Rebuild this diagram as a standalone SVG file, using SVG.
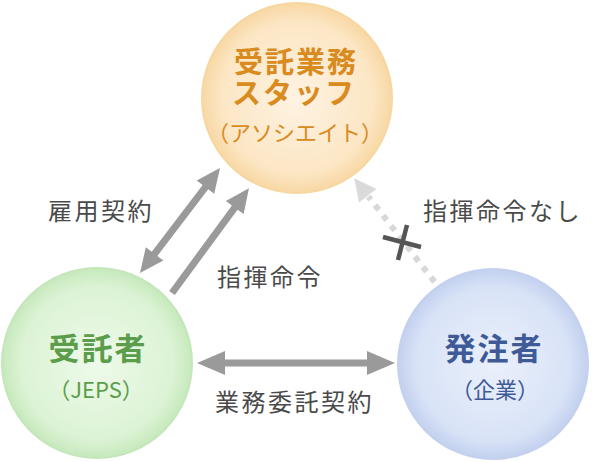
<svg xmlns="http://www.w3.org/2000/svg" width="592" height="462" viewBox="0 0 592 462">
<defs>
<radialGradient id="gO" cx="50%" cy="50%" r="50%">
<stop offset="0" stop-color="#fef3e3"/>
<stop offset="0.8" stop-color="#fce6c4"/>
<stop offset="1" stop-color="#f8d8a4"/>
</radialGradient>
<radialGradient id="gG" cx="50%" cy="50%" r="50%">
<stop offset="0" stop-color="#eefaea"/>
<stop offset="0.8" stop-color="#dcf3d5"/>
<stop offset="1" stop-color="#c6e9bc"/>
</radialGradient>
<radialGradient id="gB" cx="50%" cy="50%" r="50%">
<stop offset="0" stop-color="#eaf0fb"/>
<stop offset="0.8" stop-color="#d9e3f7"/>
<stop offset="1" stop-color="#c3d1ef"/>
</radialGradient>
<style>
.lbl{font-family:"Noto Sans CJK JP","Noto Sans",sans-serif;font-size:24px;fill:#4a4a4a;letter-spacing:2.5px}
.ttl{font-family:"Noto Sans CJK JP","Noto Sans",sans-serif;font-weight:bold;text-anchor:middle}
.sub{font-family:"Noto Sans CJK JP","Noto Sans",sans-serif;text-anchor:middle}
.arr{fill:#9a9a9a}
</style>
</defs>

<g id="connectors">
<g transform="translate(140,273) rotate(-52.7)">
<path class="arr" d="M0,0 L24,-11 L24,-3.5 L108,-3.5 L108,-11 L132,0 L108,11 L108,3.5 L24,3.5 L24,11 Z"/>
</g>
<g transform="translate(172,293) rotate(-53.7)">
<path class="arr" d="M0,-3.5 L106,-3.5 L106,-11 L130,0 L106,11 L106,3.5 L0,3.5 Z"/>
</g>
<path class="arr" d="M197,363 L225,351 L225,359.5 L367,359.5 L367,351 L395,363 L367,375 L367,366.5 L225,366.5 L225,375 Z"/>
<g transform="translate(437,285) rotate(-127.8)">
<line x1="4" y1="0" x2="112" y2="0" stroke="#d8d8d8" stroke-width="6" stroke-dasharray="6 7"/>
<path d="M113,-11 L135,0 L113,11 Z" fill="#dadada"/>
</g>
<g stroke="#555555" stroke-width="4.5" stroke-linecap="butt">
<line x1="383" y1="237" x2="421" y2="247"/>
<line x1="407" y1="225" x2="398" y2="260"/>
</g>
</g>

<g id="node-staff">
<circle cx="297" cy="98" r="95" fill="url(#gO)" stroke="#f7d7a0" stroke-width="2"/>
<text class="ttl" x="296" y="73" font-size="29" fill="#d98b1f" letter-spacing="2">受託業務</text>
<text class="ttl" x="294" y="104" font-size="29" fill="#d98b1f" letter-spacing="2">スタッフ</text>
<text class="sub" x="295" y="141" font-size="22" fill="#d98b1f">（アソシエイト）</text>
</g>

<g id="node-jeps">
<circle cx="97" cy="363" r="95" fill="url(#gG)" stroke="#c4e6ba" stroke-width="2"/>
<text class="ttl" x="98" y="360" font-size="31" fill="#5b9d4b" letter-spacing="2">受託者</text>
<text class="sub" x="96" y="398" font-size="22" fill="#5b9d4b">（JEPS）</text>
</g>

<g id="node-client">
<circle cx="493" cy="364" r="95" fill="url(#gB)" stroke="#c3d0ee" stroke-width="2"/>
<text class="ttl" x="494" y="360" font-size="31" fill="#3e5b98" letter-spacing="2">発注者</text>
<text class="sub" x="495" y="398" font-size="22" fill="#3e5b98">（企業）</text>
</g>

<g id="labels">
<text class="lbl" x="48" y="220">雇用契約</text>
<text class="lbl" x="217" y="286">指揮命令</text>
<text class="lbl" x="423" y="220">指揮命令なし</text>
<text class="lbl" x="215" y="411">業務委託契約</text>
</g>
</svg>
